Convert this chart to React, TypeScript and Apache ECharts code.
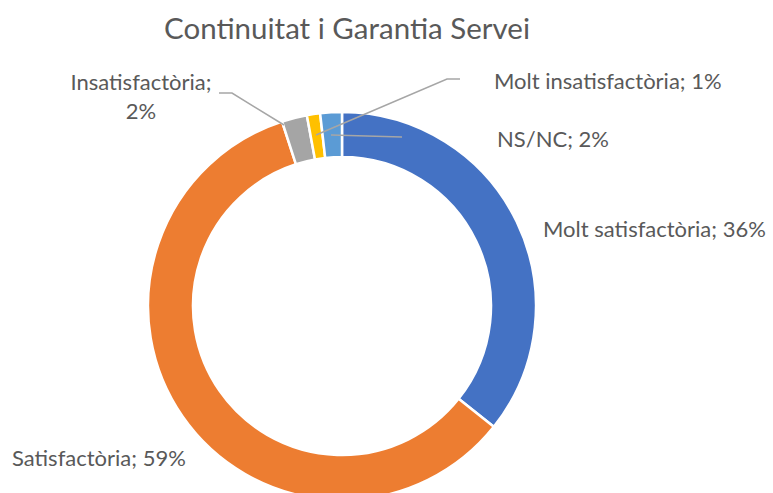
import React, { useEffect, useRef } from "react";
import * as echarts from "echarts";

const categories = [
  "Molt satisfactòria",
  "Satisfactòria",
  "Insatisfactòria",
  "Molt insatisfactòria",
  "NS/NC",
];
const values = [35.7, 59.3, 2.1, 1.1, 1.8];
const colors = ["#4472C4", "#ED7D31", "#A5A5A5", "#FFC000", "#5B9BD5"];
const titleText = "Continuitat i Garantia Servei";

const FONT = "Lato";

// label placement (layout only)
const labelPos = [
  { x: 543, y: 228, align: "left" },
  { x: 12, y: 457, align: "left" },
  { x: 141, y: 96, align: "center" },
  { x: 494, y: 80, align: "left" },
  { x: 497, y: 138, align: "left" },
];
const leaderLines: number[][][] = [
  [[284, 125], [232, 93], [219, 93]],
  [[316, 135], [447, 79], [460, 79]],
  [[331, 135], [402, 137]],
];

export default function App() {
  const ref = useRef<HTMLDivElement>(null);
  useEffect(() => {
    document.body.style.margin = "0";
    const chart = echarts.init(ref.current!, undefined, { renderer: "svg" });
    chart.setOption({
      animation: false,
      backgroundColor: "#ffffff",
      title: {
        text: titleText,
        left: 342,
        top: 7,
        textAlign: "center",
        textStyle: {
          fontFamily: FONT,
          fontSize: 29.5,
          fontWeight: "normal",
          color: "#595959",
        },
      },
      graphic: leaderLines.map((pts) => ({
        type: "polyline",
        z: 100,
        shape: { points: pts },
        style: { stroke: "#A6A6A6", lineWidth: 1.5, fill: null },
        silent: true,
      })),
      series: [
        {
          type: "pie",
          center: [342, 306],
          radius: [149, 194],
          startAngle: 90,
          clockwise: true,
          avoidLabelOverlap: false,
          itemStyle: { borderColor: "#ffffff", borderWidth: 2.5 },
          label: {
            show: true,
            position: "outside",
            fontFamily: FONT,
            fontSize: 22,
            color: "#595959",
            lineHeight: 29,
            formatter: (p: any) =>
              p.dataIndex === 2
                ? `${p.name};\n${Math.round(p.percent)}%`
                : `${p.name}; ${Math.round(p.percent)}%`,
          },
          labelLine: { show: false },
          labelLayout: (params: any) => {
            const lp = labelPos[params.dataIndex];
            return {
              x: lp.x,
              y: lp.y,
              align: lp.align,
              verticalAlign: "middle",
            };
          },
          data: categories.map((name, i) => ({
            name,
            value: values[i],
            itemStyle: { color: colors[i] },
            label: { align: labelPos[i].align },
          })),
        },
      ],
    });
    return () => chart.dispose();
  }, []);
  return <div ref={ref} style={{ width: 773, height: 493 }} />;
}
